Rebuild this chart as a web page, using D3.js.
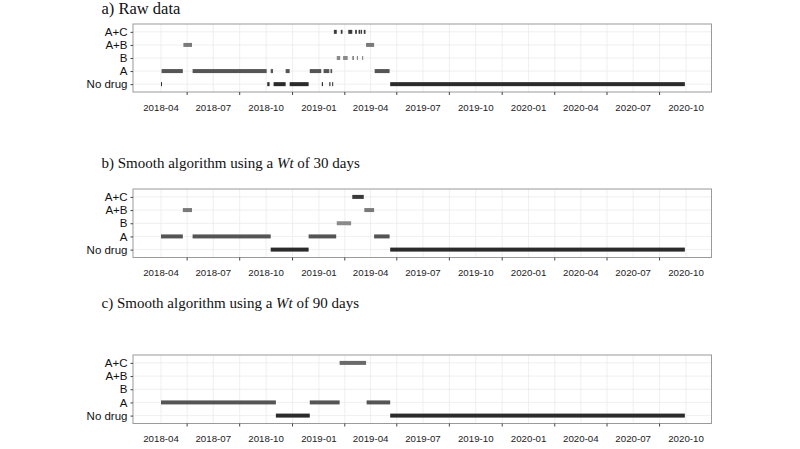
<!DOCTYPE html>
<html>
<head>
<meta charset="utf-8">
<script src="https://cdn.jsdelivr.net/npm/d3@7"></script>
<style>
  html, body { margin: 0; padding: 0; background: #fff; }
  svg { display: block; }
</style>
</head>
<body>
<svg id="chart" width="800" height="449"></svg>
<script>
// ---------- DATA ----------
const categories = ["A+C", "A+B", "B", "A", "No drug"];
const tickLabels = ["2018-04","2018-07","2018-10","2019-01","2019-04","2019-07","2019-10","2020-01","2020-04","2020-07","2020-10"];

// [category, start, end]
const rawData = [
  ["No drug","2018-04-01","2018-04-02"],
  ["A","2018-04-02","2018-05-09"],
  ["A+B","2018-05-10","2018-05-25"],
  ["A","2018-05-26","2018-10-02"],
  ["No drug","2018-10-03","2018-10-07"],
  ["A","2018-10-09","2018-10-13"],
  ["No drug","2018-10-14","2018-11-04"],
  ["A","2018-11-04","2018-11-11"],
  ["No drug","2018-11-11","2018-12-14"],
  ["A","2018-12-16","2019-01-05"],
  ["No drug","2019-01-06","2019-01-08"],
  ["A","2019-01-09","2019-01-19"],
  ["No drug","2019-01-19","2019-01-21"],
  ["A","2019-01-21","2019-01-24"],
  ["No drug","2019-01-24","2019-01-25"],
  ["A+C","2019-01-27","2019-02-01"],
  ["B","2019-02-01","2019-02-07"],
  ["A+C","2019-02-08","2019-02-11"],
  ["B","2019-02-12","2019-02-20"],
  ["A+C","2019-02-21","2019-02-28"],
  ["B","2019-02-28","2019-03-03"],
  ["A+C","2019-03-05","2019-03-08"],
  ["B","2019-03-08","2019-03-10"],
  ["A+C","2019-03-11","2019-03-14"],
  ["A+C","2019-03-15","2019-03-17"],
  ["B","2019-03-17","2019-03-19"],
  ["A+C","2019-03-20","2019-03-23"],
  ["A+B","2019-03-24","2019-04-07"],
  ["A","2019-04-08","2019-05-04"],
  ["No drug","2019-05-05","2020-09-29"]
];

const smooth30Data = [
  ["A","2018-04-01","2018-05-09"],
  ["A+B","2018-05-09","2018-05-25"],
  ["A","2018-05-26","2018-10-09"],
  ["No drug","2018-10-09","2018-12-14"],
  ["A","2018-12-14","2019-01-31"],
  ["B","2019-02-01","2019-02-26"],
  ["A+C","2019-02-28","2019-03-20"],
  ["A+B","2019-03-21","2019-04-07"],
  ["A","2019-04-07","2019-05-04"],
  ["No drug","2019-05-05","2020-09-29"]
];

const smooth90Data = [
  ["A","2018-04-01","2018-10-18"],
  ["No drug","2018-10-18","2018-12-16"],
  ["A","2018-12-16","2019-02-06"],
  ["A+C","2019-02-06","2019-03-24"],
  ["A","2019-03-25","2019-05-05"],
  ["No drug","2019-05-05","2020-09-29"]
];

const panelTitles = ["a) Raw data", "b) Smooth algorithm using a |Wt| of 30 days", "c) Smooth algorithm using a |Wt| of 90 days"];

// ---------- STYLE / LAYOUT ----------
const parse = d3.timeParse("%Y-%m");
const parseDay = d3.timeParse("%Y-%m-%d");
const labelDates = tickLabels.map(parse);
const midDates = d3.pairs(labelDates).map(([a, b]) => new Date((+a + +b) / 2));

const plotLeft = 133, plotRight = 711.5;
const x = d3.scaleTime()
  .domain([labelDates[0], labelDates[labelDates.length - 1]])
  .range([161, 686]);

const colors = {"No drug": "#2b2b2b", "A": "#555555", "B": "#8a8a8a", "A+B": "#7a7a7a", "A+C": "#3a3a3a"};

const panels = [
  {data: rawData, title: panelTitles[0], top: 24, bottom: 92, titleY: 14, titleSize: 16.5, colorOverride: {}},
  {data: smooth30Data, title: panelTitles[1], top: 189, bottom: 257.5, titleY: 168, titleSize: 15, colorOverride: {}},
  {data: smooth90Data, title: panelTitles[2], top: 355, bottom: 423.5, titleY: 308, titleSize: 15, colorOverride: {"A+C": "#6a6a6a"}}
];

const svg = d3.select("#chart");

panels.forEach(p => {
  const g = svg.append("g");
  const y = d3.scalePoint().domain(categories).range([p.top, p.bottom]).padding(0.6);

  // title
  const t = g.append("text")
    .attr("x", 101.5).attr("y", p.titleY)
    .attr("font-family", "'Liberation Serif', 'Times New Roman', serif")
    .attr("font-size", p.titleSize).attr("fill", "#111");
  p.title.split("|").forEach((part, i) => {
    t.append("tspan").text(part).attr("font-style", i % 2 === 1 ? "italic" : "normal");
  });

  // panel background
  g.append("rect").attr("x", plotLeft).attr("y", p.top)
    .attr("width", plotRight - plotLeft).attr("height", p.bottom - p.top)
    .attr("fill", "#fff");

  // grid
  const gridX = labelDates.concat(midDates);
  g.append("g").selectAll("line").data(gridX).join("line")
    .attr("x1", d => x(d)).attr("x2", d => x(d))
    .attr("y1", p.top).attr("y2", p.bottom)
    .attr("stroke", "#ebebeb").attr("stroke-width", 0.8);
  g.append("g").selectAll("line").data(categories).join("line")
    .attr("x1", plotLeft).attr("x2", plotRight)
    .attr("y1", d => y(d)).attr("y2", d => y(d))
    .attr("stroke", "#ebebeb").attr("stroke-width", 0.8);

  // segments
  g.append("g").selectAll("rect").data(p.data).join("rect")
    .attr("x", d => x(parseDay(d[1])))
    .attr("width", d => Math.max(1, x(parseDay(d[2])) - x(parseDay(d[1]))))
    .attr("y", d => y(d[0]) - 2)
    .attr("height", 4)
    .attr("fill", d => p.colorOverride[d[0]] || colors[d[0]]);

  // border
  g.append("rect").attr("x", plotLeft).attr("y", p.top)
    .attr("width", plotRight - plotLeft).attr("height", p.bottom - p.top)
    .attr("fill", "none").attr("stroke", "#9a9a9a").attr("stroke-width", 1);

  // y axis
  const ya = g.append("g").attr("transform", `translate(${plotLeft},0)`)
    .call(d3.axisLeft(y).tickSize(2.5).tickPadding(3));
  ya.select(".domain").remove();
  ya.selectAll("line").attr("stroke", "#444");
  ya.selectAll("text").attr("font-family", "'Liberation Sans', Arial, sans-serif")
    .attr("font-size", 11.5).attr("fill", "#111");

  // x axis: tick marks at mid dates, labels at label dates
  const xa = g.append("g").attr("transform", `translate(0,${p.bottom})`);
  xa.selectAll("line").data(midDates).join("line")
    .attr("x1", d => x(d)).attr("x2", d => x(d))
    .attr("y1", 0).attr("y2", 3)
    .attr("stroke", "#444");
  xa.selectAll("text").data(labelDates).join("text")
    .attr("x", d => x(d)).attr("y", 18.5)
    .attr("text-anchor", "middle")
    .attr("font-family", "'Liberation Sans', Arial, sans-serif")
    .attr("font-size", 9.7).attr("fill", "#222")
    .text(d => d3.timeFormat("%Y-%m")(d));
});
</script>
</body>
</html>
